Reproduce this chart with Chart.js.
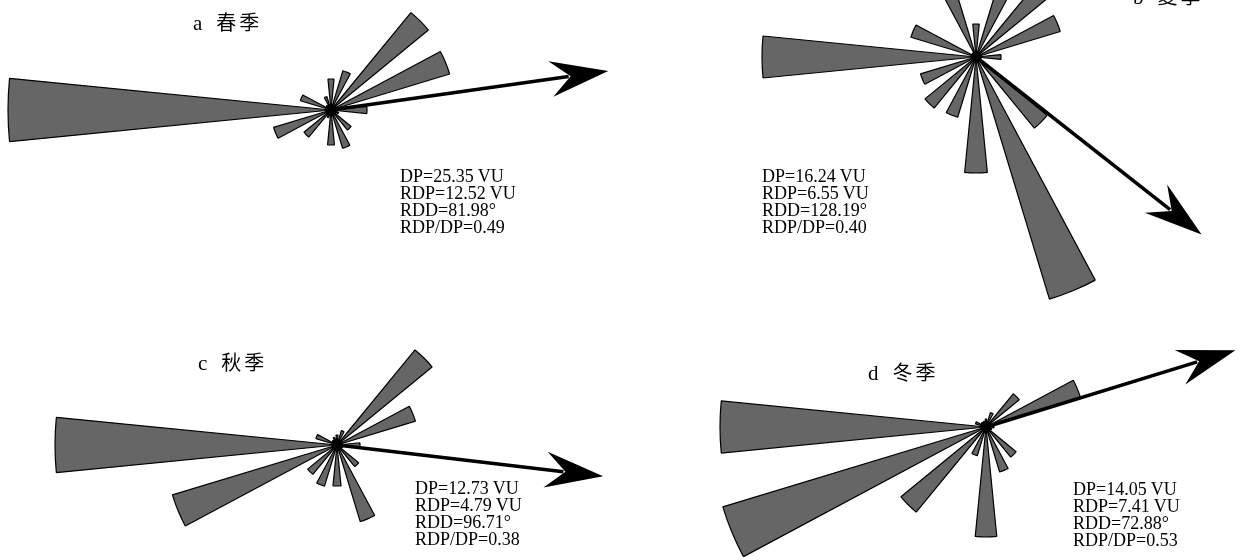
<!DOCTYPE html>
<html>
<head>
<meta charset="utf-8">
<script src="https://cdn.jsdelivr.net/npm/chart.js@4/dist/chart.umd.min.js"></script>
<style>
  html, body { margin: 0; padding: 0; background: #fff; }
  body {
    width: 1244px; height: 560px; position: relative; overflow: hidden;
    font-family: "Liberation Serif", "Noto Sans CJK SC", serif; color: #000;
  }
  canvas.rose { position: absolute; }
  .title { position: absolute; font-size: 21px; line-height: 24px; white-space: nowrap; }
  .title .cjk { font-family: "Noto Sans CJK SC", sans-serif; font-size: 20px; letter-spacing: 3px; margin-left: 14px; }
  .stats { position: absolute; font-size: 18px; line-height: 17px; white-space: nowrap; }
</style>
</head>
<body>
<script>
// 16 directions, clockwise from north (wedge points toward the wind source)
const directions = ['N', 'NNE', 'NE', 'ENE', 'E', 'ESE', 'SE', 'SSE',
                    'S', 'SSW', 'SW', 'WSW', 'W', 'WNW', 'NW', 'NNW'];

// drift potential per direction (relative units read from the roses)
const spring = [31, 41, 126, 124, 36, 8, 26, 40, 35, 8, 35, 60, 323, 32, 6, 14];
const summer = [33, 100, 130, 88, 25, 5, 92, 253, 116, 63, 66, 58, 214, 68, 5, 100];
const autumn = [10, 15, 123, 82, 23, 6, 28, 80, 41, 43, 38, 172, 282, 22, 6, 8];
const winter = [8, 15, 43, 99, 8, 6, 39, 47, 110, 30, 110, 275, 266, 11, 6, 6];

const seasonNames = ['a 春季', 'b 夏季', 'c 秋季', 'd 冬季'];
const dpValues = [25.35, 16.24, 12.73, 14.05];
const rdpValues = [12.52, 6.55, 4.79, 7.41];
const rddValues = [81.98, 128.19, 96.71, 72.88];
const ratioValues = [0.49, 0.40, 0.38, 0.53];

// mise en page des quatre roses
const R = 340;
const panels = [
  { data: spring, cx: 331, cy: 110, arrow: 280, title: [193, 10],  stats: [400, 168] },
  { data: summer, cx: 976, cy: 57,  arrow: 287, title: [1133, -16], stats: [762, 168] },
  { data: autumn, cx: 337, cy: 445, arrow: 268, title: [198, 350], stats: [415, 480] },
  { data: winter, cx: 986, cy: 427, arrow: 261, title: [868, 360], stats: [1073, 481] },
];

// fleche de la direction resultante + moyeu noir au centre
const driftArrow = {
  id: 'driftArrow',
  afterDatasetsDraw(chart, args, opts) {
    const r = chart.scales.r;
    const a = opts.bearing * Math.PI / 180;
    const ux = Math.sin(a), uy = -Math.cos(a);
    const px = -uy, py = ux;
    const cx = r.xCenter, cy = r.yCenter;
    const tx = cx + ux * opts.length, ty = cy + uy * opts.length;
    const ctx = chart.ctx;
    ctx.save();
    ctx.strokeStyle = '#000';
    ctx.fillStyle = '#000';
    ctx.beginPath();
    ctx.arc(cx, cy, 5.5, 0, Math.PI * 2);
    ctx.fill();
    ctx.lineWidth = 3.5;
    ctx.beginPath();
    ctx.moveTo(cx, cy);
    ctx.lineTo(tx - ux * 40, ty - uy * 40);
    ctx.stroke();
    ctx.beginPath();
    ctx.moveTo(tx, ty);
    ctx.lineTo(tx - ux * 58 + px * 18, ty - uy * 58 + py * 18);
    ctx.lineTo(tx - ux * 38, ty - uy * 38);
    ctx.lineTo(tx - ux * 58 - px * 18, ty - uy * 58 - py * 18);
    ctx.closePath();
    ctx.fill();
    ctx.restore();
  }
};

panels.forEach((p, i) => {
  const canvas = document.createElement('canvas');
  canvas.className = 'rose';
  canvas.width = 2 * R;
  canvas.height = 2 * R;
  canvas.style.left = (p.cx - R) + 'px';
  canvas.style.top = (p.cy - R) + 'px';
  document.body.appendChild(canvas);

  // wedges 11.25 deg wide, separated by empty slots of the same width
  const values = [];
  const labels = [];
  p.data.forEach((v, k) => {
    values.push(v, 0);
    labels.push(directions[k], '');
  });

  new Chart(canvas.getContext('2d'), {
    type: 'polarArea',
    data: {
      labels: labels,
      datasets: [{
        data: values,
        backgroundColor: '#666666',
        borderColor: '#000',
        borderWidth: ctx => (ctx.raw > 0 ? 1.2 : 0),
      }]
    },
    options: {
      responsive: false,
      animation: false,
      events: [],
      layout: { padding: 0 },
      plugins: {
        legend: { display: false },
        tooltip: { enabled: false },
        driftArrow: { bearing: rddValues[i], length: p.arrow }
      },
      scales: {
        r: {
          min: 0,
          max: R,
          startAngle: -5.625,
          ticks: { display: false },
          grid: { display: false },
          angleLines: { display: false },
          pointLabels: { display: false }
        }
      }
    },
    plugins: [driftArrow]
  });

  const t = document.createElement('div');
  t.className = 'title';
  t.style.left = p.title[0] + 'px';
  t.style.top = p.title[1] + 'px';
  const parts = seasonNames[i].split(' ');
  t.innerHTML = parts[0] + '<span class="cjk">' + parts[1] + '</span>';
  document.body.appendChild(t);

  const s = document.createElement('div');
  s.className = 'stats';
  s.style.left = p.stats[0] + 'px';
  s.style.top = p.stats[1] + 'px';
  s.innerHTML = 'DP=' + dpValues[i].toFixed(2) + ' VU<br>' +
                'RDP=' + rdpValues[i].toFixed(2) + ' VU<br>' +
                'RDD=' + rddValues[i].toFixed(2) + '°<br>' +
                'RDP/DP=' + ratioValues[i].toFixed(2);
  document.body.appendChild(s);
});
</script>
</body>
</html>
